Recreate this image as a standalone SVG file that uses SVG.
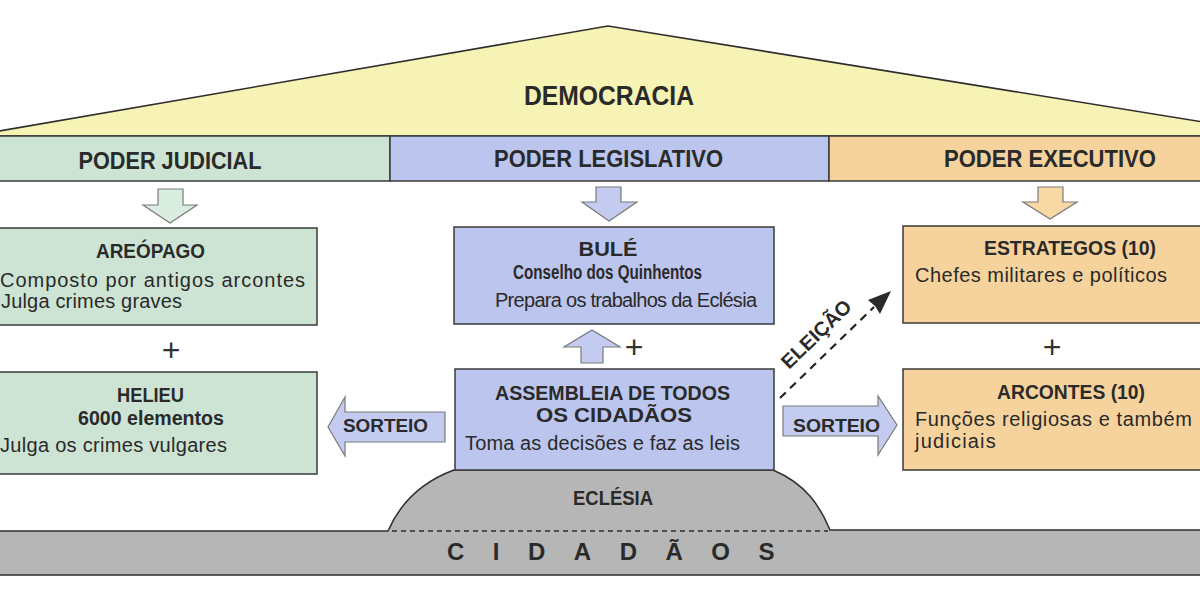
<svg xmlns="http://www.w3.org/2000/svg" width="1200" height="604" viewBox="0 0 1200 604">
<style>
text{font-family:"Liberation Sans",Arial,sans-serif;fill:#2a2a2a}
.b{font-weight:bold}
.r{font-size:20px}
.t{font-size:20px;font-weight:bold}
.h{font-size:23px;font-weight:bold}
.box{stroke:#3a3a3a;stroke-width:1.5}
.g{fill:#cde4d5}
.bl{fill:#bcc5ed}
.o{fill:#f6d39d}
.arr{stroke:#7a7a7a;stroke-width:1.2}
.plus{font-size:32px;fill:#333}
</style>
<rect width="1200" height="604" fill="#ffffff"/>
<g id="roof">
<polygon points="-30,136 608,26 1290,136" fill="#f7f3b4" stroke="#2e2e2e" stroke-width="1.6"/>
<text x="609" y="105" text-anchor="middle" class="b" font-size="27" textLength="170" lengthAdjust="spacingAndGlyphs">DEMOCRACIA</text>
</g>
<g id="poder-judicial">
<rect x="-5" y="136" width="395" height="45" class="box g"/>
<text x="170" y="169" text-anchor="middle" class="h" textLength="183" lengthAdjust="spacingAndGlyphs">PODER JUDICIAL</text>
</g>
<g id="poder-legislativo">
<rect x="390" y="136" width="439" height="45" class="box bl"/>
<text x="608.5" y="167" text-anchor="middle" class="h" textLength="229" lengthAdjust="spacingAndGlyphs">PODER LEGISLATIVO</text>
</g>
<g id="poder-executivo">
<rect x="829" y="136" width="381" height="45" class="box o"/>
<text x="1050" y="167" text-anchor="middle" class="h" textLength="212" lengthAdjust="spacingAndGlyphs">PODER EXECUTIVO</text>
</g>
<g id="cidadaos">
<path d="M -10 531 L 388 531 C 398 508 416 484 454 470 L 773 470 C 806 484 820 506 830 530 L 1210 530 L 1210 575 L -10 575 Z" fill="#b6b6b6" stroke="#2e2e2e" stroke-width="1.5"/>
<line x1="392" y1="531" x2="828" y2="531" stroke="#2e2e2e" stroke-width="1.5" stroke-dasharray="5 4"/>
<text x="613" y="505" text-anchor="middle" class="t" textLength="80" lengthAdjust="spacingAndGlyphs">ECLÉSIA</text>
<text x="447" y="560" class="b" font-size="24" letter-spacing="28.5">CIDADÃOS</text>
</g>
<g id="areopago">
<rect x="-10" y="228" width="327" height="97" class="box g"/>
<text x="150.5" y="258" text-anchor="middle" class="t" textLength="109" lengthAdjust="spacingAndGlyphs">AREÓPAGO</text>
<text x="0" y="287" class="r" textLength="305" lengthAdjust="spacing">Composto por antigos arcontes</text>
<text x="1" y="308" class="r" textLength="181" lengthAdjust="spacing">Julga crimes graves</text>
</g>
<g id="helieu">
<rect x="-10" y="372" width="327" height="102" class="box g"/>
<text x="150.5" y="402" text-anchor="middle" class="t" textLength="67" lengthAdjust="spacingAndGlyphs">HELIEU</text>
<text x="151" y="425" text-anchor="middle" class="t" textLength="146" lengthAdjust="spacingAndGlyphs">6000 elementos</text>
<text x="0" y="452" class="r" textLength="227" lengthAdjust="spacing">Julga os crimes vulgares</text>
</g>
<g id="bule">
<rect x="454" y="227" width="320" height="97" class="box bl"/>
<text x="608" y="256" text-anchor="middle" class="t" textLength="59" lengthAdjust="spacingAndGlyphs">BULÉ</text>
<text x="607.5" y="279" text-anchor="middle" class="t" textLength="189" lengthAdjust="spacingAndGlyphs">Conselho dos Quinhentos</text>
<text x="626" y="307" text-anchor="middle" class="r" textLength="262" lengthAdjust="spacing">Prepara os trabalhos da Eclésia</text>
</g>
<g id="assembleia">
<rect x="455" y="369" width="319" height="101" class="box bl"/>
<text x="612.5" y="400" text-anchor="middle" class="t" textLength="235" lengthAdjust="spacingAndGlyphs">ASSEMBLEIA DE TODOS</text>
<text x="614" y="422" text-anchor="middle" class="t" textLength="156" lengthAdjust="spacingAndGlyphs">OS CIDADÃOS</text>
<text x="465" y="450" class="r" textLength="275" lengthAdjust="spacing">Toma as decisões e faz as leis</text>
</g>
<g id="estrategos">
<rect x="903" y="226" width="310" height="97" class="box o"/>
<text x="1070" y="255" text-anchor="middle" class="t" textLength="172" lengthAdjust="spacingAndGlyphs">ESTRATEGOS (10)</text>
<text x="915" y="282" class="r" textLength="252" lengthAdjust="spacing">Chefes militares e políticos</text>
</g>
<g id="arcontes">
<rect x="903" y="369" width="310" height="101" class="box o"/>
<text x="1071" y="399" text-anchor="middle" class="t" textLength="148" lengthAdjust="spacingAndGlyphs">ARCONTES (10)</text>
<text x="915" y="426" class="r" letter-spacing="0.6">Funções religiosas e também</text>
<text x="915" y="448" class="r" letter-spacing="1.2">judiciais</text>
</g>
<g id="connectors">
<polygon points="158,189 183,189 183,205 197,205 170,223 143,205 158,205" fill="#d9ede0" class="arr"/>
<polygon points="596,187 621,187 621,202 637,202 609,221 582,202 596,202" fill="#c3cbf0" class="arr"/>
<polygon points="1038,187 1063,187 1063,202 1077,202 1050,219 1023,202 1038,202" fill="#f8d9a6" class="arr"/>
<polygon points="581,363 603,363 603,347 620,347 592,330 564,347 581,347" fill="#c3cbf0" class="arr"/>
<polygon points="445,412 445,442 345,442 345,456 328,427 345,397 345,412" fill="#c3cbf0" class="arr"/>
<text x="343" y="432" class="b" font-size="19" textLength="85" lengthAdjust="spacingAndGlyphs">SORTEIO</text>
<polygon points="783,406 878,406 878,396 897,425 878,455 878,436 783,436" fill="#c3cbf0" class="arr"/>
<text x="793" y="432" class="b" font-size="19" textLength="87" lengthAdjust="spacingAndGlyphs">SORTEIO</text>
<line x1="780" y1="398" x2="874" y2="307" stroke="#222" stroke-width="2.2" stroke-dasharray="8 6"/>
<polygon points="891,291 868,300 875,306 880,314" fill="#2a2a2a"/>
<text x="821" y="339" text-anchor="middle" class="b" font-size="20" transform="rotate(-44 821 339)">ELEIÇÃO</text>
<text x="171" y="361" text-anchor="middle" class="plus">+</text>
<text x="634" y="358" text-anchor="middle" class="plus">+</text>
<text x="1052" y="358" text-anchor="middle" class="plus">+</text>
</g>
</svg>
